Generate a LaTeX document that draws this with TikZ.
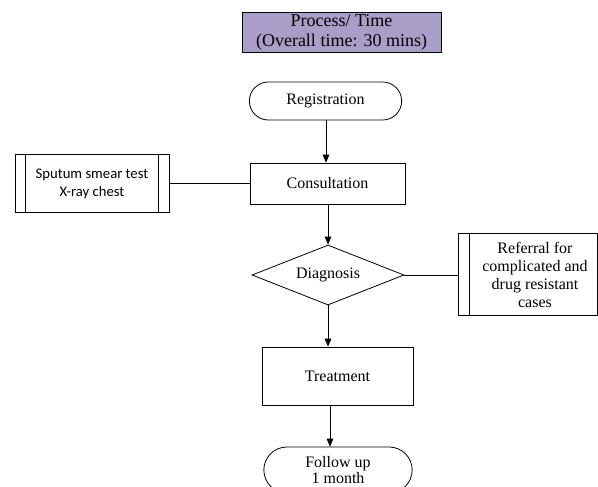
\documentclass[tikz,border=0pt]{standalone}
\usepackage{fontspec}
\setmainfont{Liberation Serif}
\newfontfamily\calib{Carlito}
\usetikzlibrary{shapes.geometric,shapes.misc,arrows.meta}
\definecolor{titlepurple}{RGB}{170,157,199}
\tikzset{
  box/.style={draw, line width=0.6pt, inner sep=1pt, align=center, font=\fontsize{12}{13.5}\selectfont},
  term/.style={box, rounded rectangle},
  flowarrow/.style={draw, line width=0.6pt, -{Triangle[length=6pt,width=5pt]}},
  conn/.style={draw, line width=0.6pt},
}
\begin{document}
\begin{tikzpicture}[x=0.75pt,y=-0.75pt]
\useasboundingbox (0,0) rectangle (598,486);
\node[box, fill=titlepurple, font=\fontsize{13.5}{15}\selectfont, minimum width=149.25pt, minimum height=30pt] (title) at (341.5,32) {Process/ Time\\(Overall time: 30 mins)};
\node[term, minimum width=116.25pt, minimum height=28.5pt] (reg) at (325.5,101) {Registration};
\node[box, minimum width=116.25pt, minimum height=30.75pt] (cons) at (327.5,183.5) {Consultation};
\node[box, font=\calib\fontsize{11}{13.5}\selectfont, minimum width=115.5pt, minimum height=43.5pt] (sput) at (92,183.5) {Sputum smear test\\X-ray chest};
\draw[line width=0.6pt] ([xshift=8.25pt]sput.north west) -- ([xshift=8.25pt]sput.south west);
\draw[line width=0.6pt] ([xshift=-8.25pt]sput.north east) -- ([xshift=-8.25pt]sput.south east);
\node[box, diamond, aspect=2.53, inner sep=0pt, minimum width=114pt, minimum height=45pt] (diag) at (328,275) {Diagnosis};
\node[box, minimum width=104.6pt, minimum height=61.5pt, inner sep=0pt] (ref) at (528,274) {};
\node[box, draw=none] (reftext) at (535,274.5) {Referral for\\complicated and\\drug resistant\\cases};
\draw[line width=0.6pt] ([xshift=9pt]ref.north west) -- ([xshift=9pt]ref.south west);
\node[box, minimum width=113.25pt, minimum height=43.5pt] (treat) at (337.5,376) {Treatment};
\node[term, font=\fontsize{12}{12.5}\selectfont, minimum width=113.25pt, minimum height=34.5pt] (fup) at (338,470) {Follow up\\1 month};
\path[flowarrow] (reg.south -| cons.north) ++(-1.5,0) coordinate (r1) -- (r1 |- cons.north);
\path[flowarrow] (cons.south) ++(0.5,0) coordinate (c1) -- (c1 |- diag.north);
\path[flowarrow] (diag.south) -- (diag.south |- treat.north);
\path[flowarrow] (treat.south) ++(-7.5,0) coordinate (t1) -- (t1 |- fup.north);
\path[conn] (sput.east) -- (cons.west);
\path[conn] (diag.east) -- (diag.east -| ref.west);
\end{tikzpicture}
\end{document}
